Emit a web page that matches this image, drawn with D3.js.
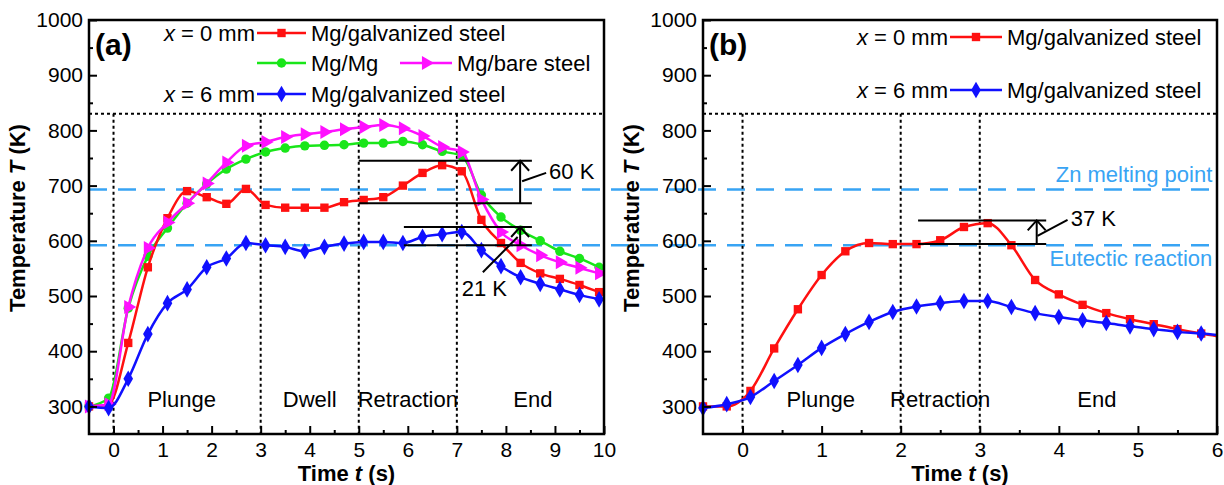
<!DOCTYPE html>
<html>
<head>
<meta charset="utf-8">
<script src="https://cdn.jsdelivr.net/npm/d3@7"></script>
<style>
body { margin: 0; background: #fff; }
text { font-family: Arial, "Liberation Sans", sans-serif; fill: #000; }
</style>
</head>
<body>
<svg id="chart" width="1224" height="485"></svg>
<script>

// ---- panel (a): thermocouple readings every 0.4 s
var timeA = [-0.5, -0.1, 0.3, 0.7, 1.1, 1.5, 1.9, 2.3, 2.7, 3.1, 3.5, 3.9, 4.3, 4.7,
             5.1, 5.5, 5.9, 6.3, 6.7, 7.1, 7.5, 7.9, 8.3, 8.7, 9.1, 9.5, 9.9];
var galv0A = [300, 303, 415, 552, 641, 690, 679, 667, 694, 665, 660, 660, 660, 670,
              674, 679, 700, 723, 737, 726, 638, 596, 560, 541, 531, 520, 507];
var mgmgA  = [300, 315, 478, 572, 623, 668, 703, 730, 748, 761, 768, 772, 773, 774,
              777, 777, 780, 774, 762, 754, 683, 643, 619, 600, 581, 568, 552];
var bareA  = [300, 304, 480, 587, 633, 668, 704, 742, 772, 779, 788, 793, 797, 802,
              806, 810, 804, 790, 770, 761, 675, 616, 592, 574, 561, 551, 541];
var galv6A = [300, 297, 350, 431, 487, 512, 552, 568, 596, 592, 589, 581, 589, 595,
              598, 598, 596, 607, 612, 616, 583, 554, 534, 522, 512, 502, 494];

// ---- panel (b): every 0.3 s
var timeB = [-0.5, -0.2, 0.1, 0.4, 0.7, 1.0, 1.3, 1.6, 1.9, 2.2, 2.5, 2.8, 3.1, 3.4,
             3.7, 4.0, 4.3, 4.6, 4.9, 5.2, 5.5, 5.8, 6.1];
var galv0B = [300, 300, 328, 405, 476, 538, 581, 596, 594, 594, 601, 625, 632, 592,
              529, 503, 484, 469, 458, 449, 440, 432, 425];
var galv6B = [297, 304, 317, 346, 375, 406, 431, 453, 471, 481, 487, 491, 491, 480,
              469, 462, 456, 451, 445, 440, 435, 432, 428];

var zincMelt = 693, eutectic = 592, stageTop = 830;
var stagesA = [0, 3, 5, 7];
var stagesB = [0, 2, 3];
var stageNamesA = ["Plunge", "Dwell", "Retraction", "End"];
var stageNamesB = ["Plunge", "Retraction", "End"];
var stageMidA = [1.39, 4.0, 6.0, 8.55];
var stageMidB = [0.99, 2.5, 4.48];

var yTicks = [300, 400, 500, 600, 700, 800, 900, 1000];

var red = "#ff1010", green = "#19e619", magenta = "#ff10ff", blue = "#1010ff";
var refBlue = "#38a4f4";

var svg = d3.select("#chart");
var plotTop = 20, plotBottom = 434;

var yScale = d3.scaleLinear().domain([250, 1000]).range([plotBottom, plotTop]);
var xA = d3.scaleLinear().domain([-0.5, 10]).range([89, 604]);
var xB = d3.scaleLinear().domain([-0.5, 6]).range([703, 1217]);

function zip(t, v) {
    return t.map(function(d, i) { return {t: d, T: v[i]}; });
}

// marker shapes
var symSquare = d3.symbol().type(d3.symbolSquare).size(70);
var symCircle = d3.symbol().type(d3.symbolCircle).size(70);
var symDiamond = d3.symbol().type(d3.symbolDiamond).size(80);
var symTri = d3.symbol().type(d3.symbolTriangle).size(85);

function markerPath(name) {
    if (name == "square") return symSquare();
    if (name == "circle") return symCircle();
    if (name == "diamond") return symDiamond();
    return symTri();
}
function markerRot(name) { return name == "tri" ? " rotate(90)" : ""; }

// blue reference lines span both panels, drawn first so curves sit on top
[zincMelt, eutectic].forEach(function(v) {
    svg.append("line")
        .attr("x1", xA.range()[0]).attr("x2", xB.range()[1])
        .attr("y1", yScale(v)).attr("y2", yScale(v))
        .style("stroke", refBlue)
        .style("stroke-width", 2.5)
        .style("stroke-dasharray", "18,11");
});

function drawPanel(x, id, stages, names, mids, series, tag) {
    var g = svg.append("g");
    var x0 = x.range()[0], x1 = x.range()[1];

    svg.append("clipPath").attr("id", "clip" + id)
        .append("rect")
        .attr("x", x0 - 8).attr("y", plotTop - 8)
        .attr("width", x1 - x0 + 8).attr("height", plotBottom - plotTop + 8);

    // stage boundaries
    g.append("line")
        .attr("x1", x0).attr("x2", x1)
        .attr("y1", yScale(stageTop)).attr("y2", yScale(stageTop))
        .style("stroke", "#000").style("stroke-width", 2)
        .style("stroke-dasharray", "3,3");
    stages.forEach(function(s) {
        g.append("line")
            .attr("x1", x(s)).attr("x2", x(s))
            .attr("y1", yScale(stageTop)).attr("y2", plotBottom)
            .style("stroke", "#000").style("stroke-width", 2)
            .style("stroke-dasharray", "3,3");
    });
    names.forEach(function(n, i) {
        g.append("text")
            .attr("x", x(mids[i]))
            .attr("y", yScale(312))
            .attr("dy", "0.35em")
            .attr("text-anchor", "middle")
            .style("font-size", "22px")
            .text(n);
    });

    var line = d3.line()
        .x(function(d) { return x(d.t); })
        .y(function(d) { return yScale(d.T); })
        .curve(d3.curveMonotoneX);

    var curves = g.append("g").attr("clip-path", "url(#clip" + id + ")");
    series.forEach(function(s) {
        var data = zip(s.t, s.v);
        curves.append("path")
            .datum(data)
            .attr("d", line)
            .style("fill", "none")
            .style("stroke", s.color)
            .style("stroke-width", 2.5);
        curves.selectAll(null)
            .data(data)
            .enter()
            .append("path")
            .attr("d", markerPath(s.marker))
            .attr("transform", function(d) {
                return "translate(" + x(d.t) + "," + yScale(d.T) + ")" + markerRot(s.marker);
            })
            .style("fill", s.color);
    });

    // axes, ticks pointing inward
    var dom = x.domain();
    var majors = d3.range(Math.ceil(dom[0]), dom[1] + 0.01, 1);
    var minors = d3.range(Math.ceil(dom[0]) - 0.5, dom[1], 1).filter(function(v) { return v > dom[0]; });

    g.append("g")
        .attr("transform", "translate(0," + plotBottom + ")")
        .call(d3.axisBottom(x).tickValues(majors).tickSize(-8).tickPadding(8).tickFormat(d3.format("d")));
    g.append("g")
        .attr("transform", "translate(0," + plotBottom + ")")
        .call(d3.axisBottom(x).tickValues(minors).tickSize(-4).tickFormat(""));

    g.append("g")
        .attr("transform", "translate(" + x0 + ",0)")
        .call(d3.axisLeft(yScale).tickValues(yTicks).tickSize(-8).tickPadding(6).tickFormat(d3.format("d")));
    g.append("g")
        .attr("transform", "translate(" + x0 + ",0)")
        .call(d3.axisLeft(yScale).tickValues(d3.range(350, 1000, 100)).tickSize(-4).tickFormat(""));

    g.selectAll(".domain").remove();
    g.selectAll(".tick line").style("stroke", "#000").style("stroke-width", 2);
    g.selectAll(".tick text")
        .style("font-size", "21px")
        .style("font-family", "Arial, 'Liberation Sans', sans-serif")
        .style("fill", "#000");

    g.append("rect")
        .attr("x", x0).attr("y", plotTop)
        .attr("width", x1 - x0).attr("height", plotBottom - plotTop)
        .style("fill", "none").style("stroke", "#000").style("stroke-width", 2.5);

    g.append("text")
        .attr("transform", "translate(" + (x0 - 64) + "," + 218 + ") rotate(-90)")
        .attr("text-anchor", "middle")
        .style("font-size", "22px").style("font-weight", "bold")
        .html("Temperature <tspan font-style='italic'>T</tspan> (K)");

    g.append("text")
        .attr("x", (x0 + x1) / 2).attr("y", 481)
        .attr("text-anchor", "middle")
        .style("font-size", "22px").style("font-weight", "bold")
        .html("Time <tspan font-style='italic'>t</tspan> (s)");

    g.append("text")
        .attr("x", x0 + 6).attr("y", 55)
        .style("font-size", "30px").style("font-weight", "bold")
        .text(tag);

    return g;
}

var gA = drawPanel(xA, "A", stagesA, stageNamesA, stageMidA, [
    {t: timeA, v: mgmgA, color: green, marker: "circle"},
    {t: timeA, v: galv0A, color: red, marker: "square"},
    {t: timeA, v: bareA, color: magenta, marker: "tri"},
    {t: timeA, v: galv6A, color: blue, marker: "diamond"}
], "(a)");

var gB = drawPanel(xB, "B", stagesB, stageNamesB, stageMidB, [
    {t: timeB, v: galv0B, color: red, marker: "square"},
    {t: timeB, v: galv6B, color: blue, marker: "diamond"}
], "(b)");

// legends
function legendItem(g, y, lx0, lx1, color, marker, label) {
    g.append("line")
        .attr("x1", lx0).attr("x2", lx1).attr("y1", y).attr("y2", y)
        .style("stroke", color).style("stroke-width", 2.5);
    g.append("path")
        .attr("d", markerPath(marker))
        .attr("transform", "translate(" + (lx0 + lx1) / 2 + "," + y + ")" + markerRot(marker))
        .style("fill", color);
    g.append("text")
        .attr("x", lx1 + 5).attr("y", y).attr("dy", "0.35em")
        .style("font-size", "22px")
        .text(label);
}
function posLabel(g, xEnd, y, mm) {
    g.append("text")
        .attr("x", xEnd).attr("y", y).attr("dy", "0.35em")
        .attr("text-anchor", "end")
        .style("font-size", "22px")
        .html("<tspan font-style='italic'>x</tspan> = " + mm + " mm");
}

posLabel(gA, 255, 33, 0);
legendItem(gA, 33, 257, 306, red, "square", "Mg/galvanized steel");
legendItem(gA, 63, 257, 306, green, "circle", "Mg/Mg");
legendItem(gA, 63, 400, 452, magenta, "tri", "Mg/bare steel");
posLabel(gA, 255, 94, 6);
legendItem(gA, 94, 257, 306, blue, "diamond", "Mg/galvanized steel");

posLabel(gB, 948, 37, 0);
legendItem(gB, 37, 950, 1002, red, "square", "Mg/galvanized steel");
posLabel(gB, 948, 90, 6);
legendItem(gB, 90, 950, 1002, blue, "diamond", "Mg/galvanized steel");

// reference line labels
svg.append("text")
    .attr("x", xB(5.94)).attr("y", yScale(zincMelt) - 15).attr("dy", "0.35em")
    .attr("text-anchor", "end")
    .style("font-size", "22px").style("fill", refBlue)
    .text("Zn melting point");
svg.append("text")
    .attr("x", xB(5.94)).attr("y", yScale(eutectic) + 13).attr("dy", "0.35em")
    .attr("text-anchor", "end")
    .style("font-size", "22px").style("fill", refBlue)
    .text("Eutectic reaction");

// temperature-rise brackets
var bracketsA = [
    {t0: 5.0, t1: 8.53, lo: 668, hi: 745, ta: 8.29, lead: [[8.33, 708], [8.82, 723]], label: "60 K", lt: 8.88, lT: 726},
    {t0: 5.92, t1: 8.53, lo: 592, hi: 625, ta: 8.29, lead: [[8.24, 607], [7.53, 543]], label: "21 K", lt: 7.1, lT: 514}
];
var bracketsB = [
    {t0: 2.22, t1: 3.84, lo: 594, hi: 637, ta: 3.72, lead: [[3.73, 609], [4.11, 638]], label: "37 K", lt: 4.15, lT: 641}
];

function drawBrackets(g, x, list) {
    list.forEach(function(b) {
        [b.lo, b.hi].forEach(function(v) {
            g.append("line")
                .attr("x1", x(b.t0)).attr("x2", x(b.t1))
                .attr("y1", yScale(v)).attr("y2", yScale(v))
                .style("stroke", "#000").style("stroke-width", 2);
        });
        var ax = x(b.ta), top = yScale(b.hi);
        g.append("line")
            .attr("x1", ax).attr("x2", ax)
            .attr("y1", yScale(b.lo)).attr("y2", top)
            .style("stroke", "#000").style("stroke-width", 2);
        g.append("path")
            .attr("d", "M" + (ax - 9) + "," + (top + 10) + "L" + ax + "," + top + "L" + (ax + 9) + "," + (top + 10))
            .style("fill", "none").style("stroke", "#000").style("stroke-width", 2);
        g.append("line")
            .attr("x1", x(b.lead[0][0])).attr("y1", yScale(b.lead[0][1]))
            .attr("x2", x(b.lead[1][0])).attr("y2", yScale(b.lead[1][1]))
            .style("stroke", "#000").style("stroke-width", 2);
        g.append("text")
            .attr("x", x(b.lt)).attr("y", yScale(b.lT)).attr("dy", "0.35em")
            .style("font-size", "22px")
            .text(b.label);
    });
}
drawBrackets(gA, xA, bracketsA);
drawBrackets(gB, xB, bracketsB);

</script>
</body>
</html>
